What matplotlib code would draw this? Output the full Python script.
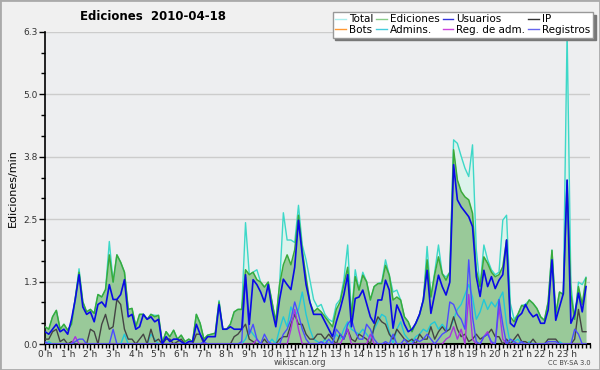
import matplotlib
matplotlib.use("Agg")
import matplotlib.pyplot as plt
import numpy as np
from matplotlib.lines import Line2D

# ---------------------------------------------------------------------------
# Data: edits per minute, 10-minute steps, 2010-04-18
# ---------------------------------------------------------------------------
total = [
    0.35, 0.30, 0.55, 0.68, 0.30, 0.40, 0.28, 0.40, 0.92, 1.52, 0.85, 0.65,
    0.70, 0.62, 1.00, 0.95, 1.10, 2.07, 1.25, 1.80, 1.65, 1.45, 0.70, 0.72,
    0.35, 0.60, 0.60, 0.50, 0.60, 0.58, 0.58, 0.02, 0.25, 0.15, 0.28, 0.10,
    0.18, 0.05, 0.10, 0.05, 0.60, 0.42, 0.10, 0.18, 0.20, 0.22, 0.88, 0.30,
    0.30, 0.40, 0.65, 0.70, 0.70, 2.45, 1.40, 1.45, 1.50, 1.25, 1.15, 1.25,
    0.85, 0.45, 1.20, 2.65, 2.10, 2.10, 2.05, 2.80, 2.00, 1.70, 1.30, 0.90,
    0.75, 0.80, 0.60, 0.50, 0.45, 0.80, 0.90, 1.30, 2.00, 0.60, 1.50, 1.09,
    1.45, 1.26, 0.89, 1.16, 1.22, 1.25, 1.70, 1.39, 1.05, 1.09, 0.89, 0.55,
    0.45, 0.25, 0.42, 0.60, 0.89, 1.97, 0.95, 1.45, 2.00, 1.42, 1.35, 1.45,
    4.12, 4.05, 3.79, 3.55, 3.38, 4.02, 1.90, 1.16, 2.00, 1.70, 1.50, 1.40,
    1.45, 2.50, 2.60, 0.82, 0.50, 0.60, 0.78, 0.80, 0.89, 0.82, 0.72, 0.55,
    0.48, 0.85, 1.90, 0.60, 1.05, 1.00, 6.30, 1.20, 0.50, 1.25, 1.20, 1.35,
]
ediciones = [
    0.35, 0.30, 0.55, 0.68, 0.30, 0.40, 0.28, 0.40, 0.92, 1.45, 0.85, 0.65,
    0.70, 0.62, 1.00, 0.95, 1.10, 1.80, 1.25, 1.80, 1.65, 1.45, 0.70, 0.72,
    0.35, 0.60, 0.60, 0.50, 0.60, 0.55, 0.58, 0.02, 0.25, 0.15, 0.28, 0.10,
    0.18, 0.05, 0.10, 0.05, 0.60, 0.42, 0.10, 0.18, 0.20, 0.22, 0.85, 0.30,
    0.30, 0.40, 0.65, 0.70, 0.70, 1.50, 1.40, 1.45, 1.30, 1.25, 1.15, 1.25,
    0.85, 0.45, 1.20, 1.60, 1.80, 1.60, 1.90, 2.60, 1.90, 1.35, 0.85, 0.65,
    0.72, 0.65, 0.55, 0.45, 0.35, 0.70, 0.85, 1.20, 1.55, 0.55, 1.36, 1.09,
    1.39, 1.26, 0.89, 1.16, 1.22, 1.22, 1.59, 1.39, 0.89, 0.95, 0.89, 0.55,
    0.45, 0.25, 0.42, 0.60, 0.89, 1.70, 0.95, 1.40, 1.76, 1.42, 1.29, 1.45,
    3.92, 3.31, 3.08, 2.97, 2.91, 2.64, 1.49, 1.16, 1.76, 1.63, 1.45, 1.36,
    1.40, 1.56, 2.10, 0.55, 0.45, 0.60, 0.78, 0.75, 0.89, 0.82, 0.72, 0.55,
    0.48, 0.85, 1.89, 0.60, 1.05, 1.00, 3.30, 1.00, 0.50, 1.16, 0.80, 1.33,
]
usuarios = [
    0.25, 0.20, 0.30, 0.40, 0.25, 0.30, 0.20, 0.50, 0.90, 1.40, 0.75, 0.60,
    0.65, 0.45, 0.80, 0.85, 0.75, 1.20, 0.90, 0.90, 1.00, 1.30, 0.55, 0.60,
    0.30, 0.35, 0.60, 0.50, 0.55, 0.45, 0.50, 0.00, 0.15, 0.05, 0.10, 0.10,
    0.05, 0.00, 0.05, 0.05, 0.40, 0.20, 0.05, 0.15, 0.15, 0.15, 0.80, 0.30,
    0.30, 0.35, 0.30, 0.30, 0.30, 1.40, 0.40, 1.30, 1.20, 1.05, 0.85, 1.20,
    0.70, 0.35, 0.90, 1.31, 1.20, 1.10, 1.55, 2.50, 1.80, 1.20, 0.85, 0.60,
    0.60, 0.60, 0.45, 0.30, 0.15, 0.45, 0.70, 1.00, 1.40, 0.35, 0.92, 0.95,
    1.09, 0.82, 0.55, 0.42, 0.89, 0.89, 1.29, 1.09, 0.32, 0.79, 0.62, 0.40,
    0.25, 0.30, 0.42, 0.60, 0.89, 1.49, 0.62, 1.00, 1.39, 1.16, 0.99, 1.25,
    3.62, 2.91, 2.77, 2.67, 2.57, 2.37, 1.36, 0.96, 1.49, 1.16, 1.36, 1.12,
    1.29, 1.40, 2.10, 0.42, 0.35, 0.55, 0.62, 0.80, 0.65, 0.55, 0.60, 0.42,
    0.42, 0.69, 1.70, 0.48, 0.75, 1.02, 3.31, 0.42, 0.60, 1.03, 0.65, 1.16,
]
ip = [
    0.10, 0.10, 0.25, 0.30, 0.05, 0.10, 0.00, 0.05, 0.00, 0.00, 0.00, 0.00,
    0.30, 0.25, 0.00, 0.40, 0.60, 0.30, 0.35, 0.90, 0.80, 0.30, 0.10, 0.10,
    0.00, 0.10, 0.20, 0.00, 0.30, 0.05, 0.10, 0.00, 0.10, 0.10, 0.00, 0.05,
    0.10, 0.00, 0.00, 0.00, 0.20, 0.20, 0.00, 0.00, 0.00, 0.00, 0.00, 0.00,
    0.00, 0.00, 0.15, 0.20, 0.30, 0.40, 0.10, 0.05, 0.00, 0.00, 0.10, 0.00,
    0.00, 0.00, 0.10, 0.15, 0.15, 0.40, 0.60, 0.40, 0.40, 0.20, 0.10, 0.10,
    0.20, 0.20, 0.10, 0.20, 0.10, 0.00, 0.20, 0.10, 0.30, 0.10, 0.05, 0.20,
    0.15, 0.10, 0.00, 0.35, 0.55, 0.45, 0.40, 0.20, 0.10, 0.30, 0.20, 0.10,
    0.05, 0.10, 0.00, 0.20, 0.10, 0.10, 0.35, 0.10, 0.25, 0.35, 0.25, 0.30,
    0.55, 0.30, 0.15, 0.20, 0.05, 0.10, 0.20, 0.10, 0.15, 0.20, 0.30, 0.15,
    0.15, 0.00, 0.10, 0.00, 0.10, 0.20, 0.05, 0.05, 0.00, 0.10, 0.00, 0.00,
    0.00, 0.10, 0.10, 0.10, 0.00, 0.00, 0.00, 0.00, 0.10, 0.70, 0.25, 0.25,
]
admins = [
    0.00, 0.05, 0.00, 0.00, 0.00, 0.00, 0.00, 0.00, 0.00, 0.00, 0.00, 0.00,
    0.00, 0.00, 0.00, 0.00, 0.00, 0.00, 0.00, 0.00, 0.00, 0.20, 0.00, 0.00,
    0.00, 0.00, 0.00, 0.00, 0.20, 0.10, 0.00, 0.00, 0.00, 0.00, 0.00, 0.00,
    0.00, 0.00, 0.00, 0.00, 0.00, 0.00, 0.00, 0.00, 0.00, 0.00, 0.00, 0.00,
    0.00, 0.00, 0.00, 0.00, 0.00, 0.10, 0.30, 0.20, 0.10, 0.00, 0.00, 0.00,
    0.10, 0.00, 0.30, 0.55, 0.35, 0.75, 0.55, 0.70, 1.05, 0.60, 0.30, 0.10,
    0.05, 0.00, 0.10, 0.00, 0.05, 0.20, 0.10, 0.30, 0.45, 0.30, 0.25, 0.20,
    0.30, 0.20, 0.10, 0.30, 0.45, 0.60, 0.55, 0.25, 0.00, 0.30, 0.45, 0.20,
    0.10, 0.05, 0.15, 0.20, 0.30, 0.25, 0.40, 0.45, 0.30, 0.40, 0.30, 0.30,
    0.50, 0.70, 0.80, 1.00, 1.20, 0.95, 0.50, 0.65, 0.90, 0.70, 0.85, 0.75,
    0.90, 1.05, 0.40, 0.00, 0.05, 0.10, 0.00, 0.00, 0.05, 0.00, 0.00, 0.00,
    0.00, 0.00, 0.00, 0.00, 0.05, 0.00, 0.00, 0.00, 0.00, 0.00, 0.00, 0.00,
]
registros = [
    0.05, 0.00, 0.00, 0.00, 0.00, 0.00, 0.00, 0.00, 0.05, 0.10, 0.10, 0.00,
    0.00, 0.00, 0.00, 0.00, 0.00, 0.00, 0.30, 0.00, 0.00, 0.00, 0.00, 0.00,
    0.00, 0.00, 0.00, 0.00, 0.00, 0.00, 0.00, 0.00, 0.00, 0.00, 0.00, 0.00,
    0.00, 0.00, 0.00, 0.00, 0.00, 0.00, 0.05, 0.00, 0.00, 0.00, 0.00, 0.00,
    0.00, 0.00, 0.00, 0.00, 0.05, 1.35, 0.20, 0.40, 0.10, 0.00, 0.20, 0.05,
    0.00, 0.00, 0.00, 0.20, 0.30, 0.50, 0.85, 0.60, 0.30, 0.10, 0.00, 0.00,
    0.00, 0.05, 0.00, 0.10, 0.00, 0.30, 0.20, 0.10, 0.40, 0.50, 0.25, 0.10,
    0.10, 0.40, 0.30, 0.10, 0.00, 0.00, 0.05, 0.00, 0.20, 0.00, 0.00, 0.10,
    0.00, 0.00, 0.10, 0.05, 0.10, 0.20, 0.10, 0.00, 0.10, 0.20, 0.25, 0.85,
    0.80, 0.60, 0.50, 0.30, 1.70, 0.55, 0.05, 0.00, 0.15, 0.20, 0.05, 0.00,
    0.90, 0.40, 0.00, 0.10, 0.05, 0.00, 0.05, 0.00, 0.00, 0.00, 0.00, 0.00,
    0.00, 0.05, 0.05, 0.05, 0.00, 0.00, 0.00, 0.00, 0.30, 0.20, 0.00, 0.00,
]
reg_adm = [0.0] * 144
for idx, val in {8: 0.15, 56: 0.10, 65: 0.30, 66: 0.70, 67: 0.30, 79: 0.15, 80: 0.30,
                 86: 0.20, 106: 0.10, 107: 0.15, 108: 0.35, 109: 0.10, 110: 0.30,
                 112: 1.00, 113: 0.10, 116: 0.15, 117: 0.25, 120: 0.75, 121: 0.10}.items():
    reg_adm[idx] = val
bots = [0.0] * 144

hour_labels = [f"{h} h" for h in range(24)]
y_ticks = [0.0, 1.26, 2.52, 3.78, 5.04, 6.3]
y_tick_labels = ["0.0", "1.3", "2.5", "3.8", "5.0", "6.3"]

# ---------------------------------------------------------------------------
# Plot
# ---------------------------------------------------------------------------
x = np.arange(len(total)) / 6.0

fig = plt.figure(figsize=(6, 3.7), dpi=100, facecolor="#f0f0f0")
ax = fig.add_axes([0.075, 0.070, 0.908, 0.844])
ax.set_facecolor("#edeef0")

ax.fill_between(x, total, color="#dcf3ec", lw=0, zorder=1)
ax.fill_between(x, ediciones, color="#99c999", lw=0, zorder=2)
ax.plot(x, bots, color="#ff9933", lw=1, zorder=2)
ax.plot(x, total, color="#3dd8c8", lw=1, zorder=3)
ax.plot(x, ediciones, color="#3aaa3a", lw=1.1, zorder=3)
ax.plot(x, admins, color="#22c8d8", lw=1, zorder=4)
ax.plot(x, ip, color="#444444", lw=1, zorder=4)
ax.plot(x, reg_adm, color="#aa33dd", lw=1, zorder=4)
ax.plot(x, registros, color="#4b4bff", lw=1, zorder=4)
ax.plot(x, usuarios, color="#0a0ae6", lw=1.2, zorder=5)

ax.set_xlim(0, 24)
ax.set_ylim(0, 6.3)
ax.set_yticks(y_ticks)
ax.set_yticklabels(y_tick_labels, fontsize=6.5, color="#333333")
ax.set_yticks(np.arange(0, 6.31, 0.42), minor=True)
ax.set_xticks(range(24))
ax.set_xticklabels(hour_labels, fontsize=6.5, color="#333333", ha="center")
ax.set_xticks(np.arange(0, 24.01, 1 / 6), minor=True)
ax.tick_params(axis="both", which="major", length=4, width=1, pad=1)
ax.tick_params(axis="x", which="major", pad=0)
ax.tick_params(axis="both", which="minor", length=3, width=1)
ax.grid(axis="y", color="#cccccc", lw=1)
ax.set_axisbelow(True)
for side in ["top", "right"]:
    ax.spines[side].set_visible(False)
ax.spines["left"].set_linewidth(1.2)
ax.spines["bottom"].set_linewidth(1.5)

ax.set_ylabel("Ediciones/min", fontsize=8, labelpad=4)
fig.text(0.255, 0.955, "Ediciones  2010-04-18", fontsize=8.5, fontweight="bold",
         ha="center", va="center")
fig.text(0.5, 0.020, "wikiscan.org", fontsize=6, color="#444444", ha="center", va="center")
fig.text(0.985, 0.020, "CC BY-SA 3.0", fontsize=4.8, color="#444444", ha="right", va="center")

handles = [
    Line2D([], [], color="#aaeeee", lw=1),
    Line2D([], [], color="#ff9933", lw=1),
    Line2D([], [], color="#88cc88", lw=1),
    Line2D([], [], color="#44ccdd", lw=1),
    Line2D([], [], color="#3333dd", lw=1),
    Line2D([], [], color="#cc44dd", lw=1),
    Line2D([], [], color="#333333", lw=1),
    Line2D([], [], color="#6666ee", lw=1),
]
labels = ["Total", "Bots", "Ediciones", "Admins.", "Usuarios", "Reg. de adm.", "IP", "Registros"]
leg = fig.legend(handles, labels, ncol=4, loc="upper right", bbox_to_anchor=(0.988, 0.968),
                 borderaxespad=0, fontsize=7.5, handlelength=1.0, handletextpad=0.3,
                 columnspacing=0.3, labelspacing=0.05, borderpad=0.25, fancybox=False,
                 shadow={"color": "#777777", "alpha": 1}, framealpha=1, edgecolor="#999999")
leg.get_frame().set_linewidth(1)

border = plt.Rectangle((0, 0), 1, 1, transform=fig.transFigure, fill=False,
                       edgecolor="#aaaaaa", lw=2)
fig.patches.append(border)

fig.savefig("out.png", dpi=100, facecolor=fig.get_facecolor())
plt.close(fig)
